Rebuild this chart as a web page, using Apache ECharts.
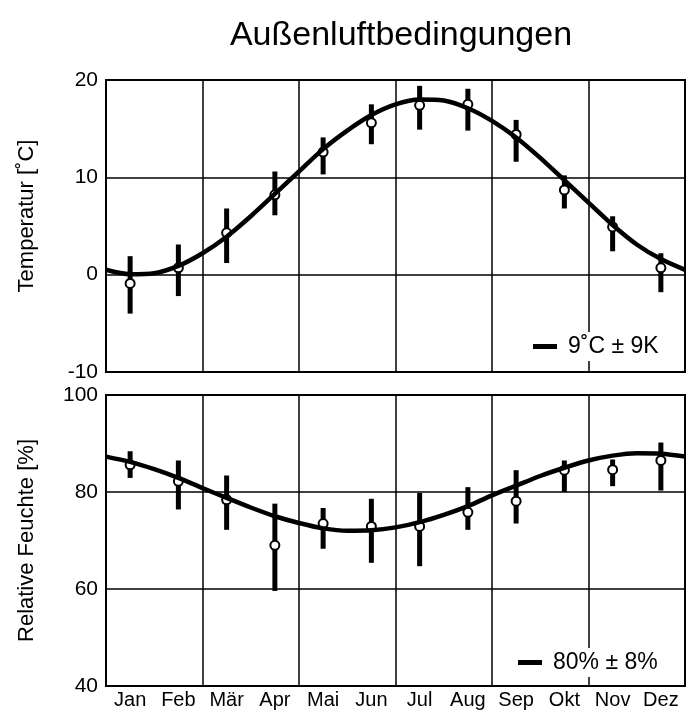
<!DOCTYPE html>
<html>
<head>
<meta charset="utf-8">
<script src="https://cdn.jsdelivr.net/npm/echarts@6/dist/echarts.min.js"></script>
<style>
html,body{margin:0;padding:0;background:#fff;}
#chart{width:687px;height:711px;}
</style>
</head>
<body>
<div id="chart"></div>
<script>
// ---- data ----
const months = ['Jan','Feb','Mär','Apr','Mai','Jun','Jul','Aug','Sep','Okt','Nov','Dez'];
const xTicks = [0, 2, 4, 6, 8, 10, 12];

// Temperature monthly values (°C)
const tempMean = [-0.9, 0.7, 4.3, 8.2, 12.6, 15.6, 17.4, 17.5, 14.4, 8.7, 4.9, 0.7];
const tempLow  = [-4.0, -2.2, 1.2, 6.1, 10.3, 13.4, 14.9, 14.8, 11.6, 6.8, 2.4, -1.8];
const tempHigh = [1.9, 3.1, 6.8, 10.6, 14.1, 17.5, 19.4, 19.1, 15.9, 10.2, 6.0, 2.2];
// fitted curve read every half month, 0..12
const fitX    = [0, 0.5, 1, 1.5, 2, 2.5, 3, 3.5, 4, 4.5, 5, 5.5, 6, 6.5, 7, 7.5, 8, 8.5, 9, 9.5, 10, 10.5, 11, 11.5, 12];
const tempFit = [0.5, 0.05, 0.15, 0.9, 2.2, 3.9, 6.0, 8.3, 10.6, 12.9, 14.8, 16.4, 17.5, 18.0, 17.9, 17.1, 15.8, 14.1, 12.0, 9.7, 7.4, 5.1, 3.1, 1.6, 0.5];

// Relative humidity monthly values (%)
const humMean = [85.6, 82.2, 78.4, 69.0, 73.5, 72.9, 72.9, 75.8, 78.1, 84.5, 84.6, 86.5];
const humLow  = [82.9, 76.4, 72.2, 59.6, 68.3, 65.4, 64.7, 72.2, 73.5, 80.0, 81.2, 80.3];
const humHigh = [88.4, 86.5, 83.4, 77.6, 76.7, 78.6, 79.8, 81.0, 84.5, 86.5, 86.7, 90.2];
const humFit  = [87.3, 86.2, 84.7, 82.9, 80.8, 78.8, 76.8, 75.0, 73.6, 72.5, 72.0, 72.1, 72.7, 73.8, 75.3, 77.1, 79.3, 81.3, 83.3, 85.0, 86.5, 87.5, 88.0, 87.9, 87.3];

const tempLegend = '9˚C ± 9K';
const humLegend = '80% ± 8%';

// ---- build ----
const FONT = '"Liberation Sans", Arial, Helvetica, sans-serif';
const pos = months.map((m, i) => i + 0.5);
const tempBars = pos.map((x, i) => [x, tempLow[i], tempHigh[i]]);
const humBars = pos.map((x, i) => [x, humLow[i], humHigh[i]]);
const tempPts = pos.map((x, i) => [x, tempMean[i]]);
const humPts = pos.map((x, i) => [x, humMean[i]]);
const tempCurve = fitX.map((x, i) => [x, tempFit[i]]);
const humCurve = fitX.map((x, i) => [x, humFit[i]]);

function barRender(params, api) {
  const x = api.value(0);
  const p1 = api.coord([x, api.value(1)]);
  const p2 = api.coord([x, api.value(2)]);
  return {
    type: 'line',
    shape: {x1: p1[0], y1: p1[1], x2: p2[0], y2: p2[1]},
    style: {stroke: '#000', lineWidth: 5}
  };
}

const gridLine = {show: true, lineStyle: {color: '#000', width: 1.5}};

function valueX(gi) {
  return {
    type: 'value', gridIndex: gi, min: xTicks[0], max: xTicks[xTicks.length - 1], interval: 2,
    axisLine: {show: false}, axisTick: {show: false}, axisLabel: {show: false},
    splitLine: gridLine
  };
}

const chart = echarts.init(document.getElementById('chart'), null, {renderer: 'canvas'});
chart.setOption({
  backgroundColor: '#fff',
  animation: false,
  textStyle: {fontFamily: FONT, color: '#000'},
  title: {
    text: 'Außenluftbedingungen',
    left: 396, top: 14, textAlign: 'center',
    textStyle: {fontFamily: FONT, fontSize: 34, fontWeight: 'normal', color: '#000'}
  },
  legend: [
    {
      data: [tempLegend], left: 529, top: 332, icon: 'rect', itemWidth: 24, itemHeight: 5,
      backgroundColor: '#fff', padding: [3, 4, 3, 4],
      textStyle: {fontFamily: FONT, fontSize: 23, color: '#000', padding: [0, 0, 0, 6]},
      itemStyle: {color: '#000'}
    },
    {
      data: [humLegend], left: 514, top: 648, icon: 'rect', itemWidth: 24, itemHeight: 5,
      backgroundColor: '#fff', padding: [3, 4, 3, 4],
      textStyle: {fontFamily: FONT, fontSize: 23, color: '#000', padding: [0, 0, 0, 6]},
      itemStyle: {color: '#000'}
    }
  ],
  grid: [
    {left: 106, top: 80, width: 579, height: 292, show: true, borderColor: '#000', borderWidth: 2, containLabel: false},
    {left: 106, top: 395, width: 579, height: 291, show: true, borderColor: '#000', borderWidth: 2, containLabel: false}
  ],
  xAxis: [
    valueX(0),
    valueX(1),
    {
      type: 'category', gridIndex: 1, data: months, position: 'bottom', boundaryGap: true,
      axisLine: {show: false}, axisTick: {show: false}, splitLine: {show: false},
      axisLabel: {fontFamily: FONT, fontSize: 20, color: '#000', margin: 4, interval: 0}
    }
  ],
  yAxis: [
    {
      type: 'value', gridIndex: 0, min: -10, max: 20, interval: 10,
      axisLine: {show: false}, axisTick: {show: false}, splitLine: gridLine,
      axisLabel: {fontFamily: FONT, fontSize: 21, color: '#000', margin: 8},
      name: 'Temperatur [˚C]', nameLocation: 'middle', nameGap: 68,
      nameTextStyle: {fontFamily: FONT, fontSize: 22, color: '#000', padding: [0, 0, 0, 20]}
    },
    {
      type: 'value', gridIndex: 1, min: 40, max: 100, interval: 20,
      axisLine: {show: false}, axisTick: {show: false}, splitLine: gridLine,
      axisLabel: {fontFamily: FONT, fontSize: 21, color: '#000', margin: 8},
      name: 'Relative Feuchte [%]', nameLocation: 'middle', nameGap: 68,
      nameTextStyle: {fontFamily: FONT, fontSize: 22, color: '#000'}
    }
  ],
  series: [
    {type: 'custom', xAxisIndex: 0, yAxisIndex: 0, data: tempBars, renderItem: barRender,
     encode: {x: 0, y: [1, 2]}, z: 2, silent: true},
    {type: 'scatter', xAxisIndex: 0, yAxisIndex: 0, data: tempPts, symbol: 'circle', symbolSize: 9,
     itemStyle: {color: '#fff', borderColor: '#000', borderWidth: 2, opacity: 1}, z: 3, silent: true},
    {type: 'line', name: tempLegend, xAxisIndex: 0, yAxisIndex: 0, data: tempCurve, smooth: 0.3,
     showSymbol: false, lineStyle: {color: '#000', width: 4.5}, itemStyle: {color: '#000'}, z: 4, silent: true},

    {type: 'custom', xAxisIndex: 1, yAxisIndex: 1, data: humBars, renderItem: barRender,
     encode: {x: 0, y: [1, 2]}, z: 2, silent: true},
    {type: 'scatter', xAxisIndex: 1, yAxisIndex: 1, data: humPts, symbol: 'circle', symbolSize: 9,
     itemStyle: {color: '#fff', borderColor: '#000', borderWidth: 2, opacity: 1}, z: 3, silent: true},
    {type: 'line', name: humLegend, xAxisIndex: 1, yAxisIndex: 1, data: humCurve, smooth: 0.3,
     showSymbol: false, lineStyle: {color: '#000', width: 4.5}, itemStyle: {color: '#000'}, z: 4, silent: true}
  ]
});
</script>
</body>
</html>
